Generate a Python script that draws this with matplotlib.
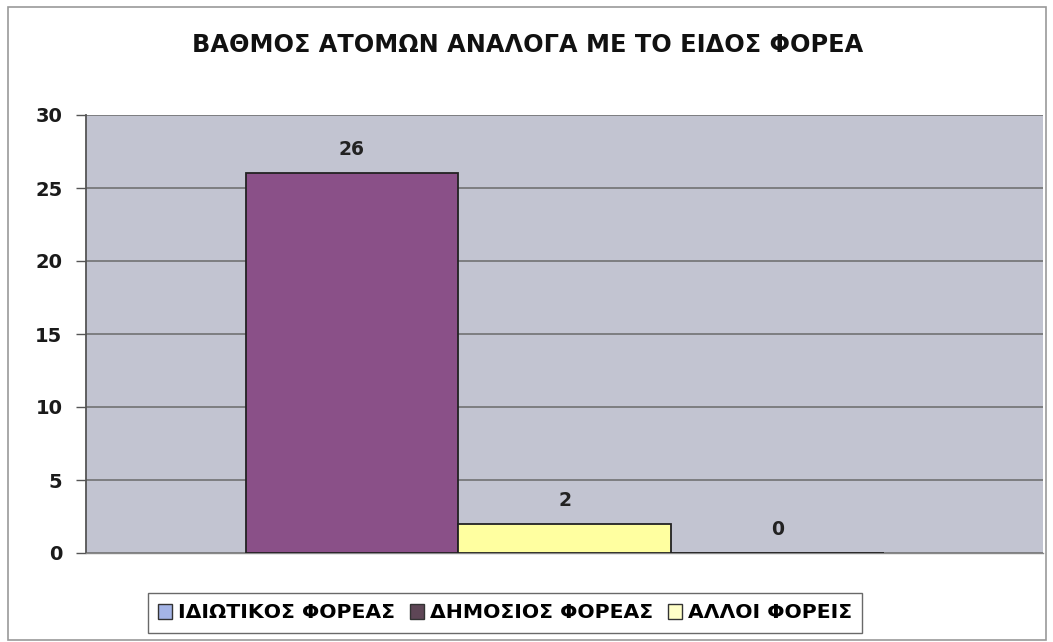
import matplotlib
matplotlib.use("Agg")
import matplotlib.pyplot as plt
from matplotlib.patches import Patch, Rectangle

plt.rcParams['font.family'] = ['DejaVu Sans']

title = "ΒΑΘΜΟΣ ΑΤΟΜΩΝ ΑΝΑΛΟΓΑ ΜΕ ΤΟ ΕΙΔΟΣ ΦΟΡΕΑ"
series_names = ["ΙΔΙΩΤΙΚΟΣ ΦΟΡΕΑΣ", "ΔΗΜΟΣΙΟΣ ΦΟΡΕΑΣ", "ΑΛΛΟΙ ΦΟΡΕΙΣ"]
values = [26, 2, 0]
bar_colors = ["#8A5088", "#FFFFA0", "#9999FF"]
legend_colors = ["#A4B4E6", "#5E4656", "#FFFFC8"]
yticks = [0, 5, 10, 15, 20, 25, 30]

W, H = 1053, 642
fig = plt.figure(figsize=(W / 100, H / 100), dpi=100)
fig.patch.set_facecolor("white")

# outer chart border
fig.add_artist(Rectangle((8 / W, 2 / H), 1038 / W, 633 / H, transform=fig.transFigure,
                         fill=False, edgecolor="#9a9a9a", lw=1.2))

ax = fig.add_axes([86 / W, 1 - 553 / H, (1043 - 86) / W, (553 - 115) / H])
ax.set_facecolor("#C2C4D1")

n = len(values)
bw = 2 / 9
offsets = [(i - (n - 1) / 2) * bw for i in range(n)]
for i in range(n):
    ax.bar(offsets[i], values[i], width=bw, color=bar_colors[i], edgecolor="#222222",
           lw=1.3, zorder=3)
    ax.annotate(str(values[i]), (offsets[i], values[i]), xytext=(0, 17),
                textcoords="offset points", ha="center", va="center",
                fontsize=13.5, fontweight="bold", color="#222222")

ax.set_xlim(-0.5, 0.5)
ax.set_ylim(0, 30)
ax.set_yticks(yticks)
ax.set_yticklabels([str(t) for t in yticks], fontsize=14, fontweight="bold", color="#1a1a1a")
ax.set_xticks([])
ax.tick_params(axis="y", length=7, width=1, color="#555555", pad=10)
ax.yaxis.grid(True, color="#6a6a6a", lw=1.1)
ax.set_axisbelow(True)
for s in ["top", "right"]:
    ax.spines[s].set_visible(False)
ax.spines["left"].set_color("#555555")
ax.spines["left"].set_linewidth(1.3)
ax.spines["bottom"].set_color("#888888")
ax.spines["bottom"].set_linewidth(1.0)

fig.text(528 / W, 1 - 45 / H, title, ha="center", va="center", fontsize=17.3,
         fontweight="bold", color="#111111")

handles = [Patch(facecolor=c, edgecolor="#333333", lw=1) for c in legend_colors]
leg = fig.legend(handles, series_names, loc="center", bbox_to_anchor=(505 / W, 1 - 613 / H),
                 ncol=3, frameon=True, fancybox=False, edgecolor="#444444",
                 prop={"weight": "bold", "size": 14.7}, handlelength=0.7, handleheight=0.7,
                 handletextpad=0.3, columnspacing=0.7, borderpad=0.5)
leg.get_frame().set_linewidth(1.0)

fig.savefig("out.png", dpi=100)
